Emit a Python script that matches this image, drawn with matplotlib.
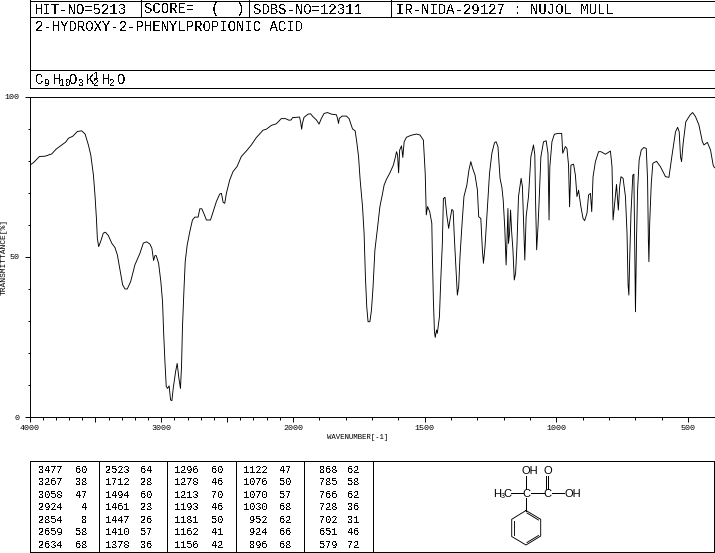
import numpy as np
import matplotlib
matplotlib.use('Agg')
import matplotlib.pyplot as plt

plt.rcParams['font.family'] = ['Liberation Mono', 'DejaVu Sans Mono']
plt.rcParams['text.antialiased'] = False

# spectrum: wavenumber (1/cm), transmittance (%)
wavenumber = [
    4000, 3970, 3924, 3881, 3831, 3798, 3755, 3725, 3704, 3672, 3636, 3604, 3578, 3553, 3535, 3515,
    3503, 3492, 3485, 3475, 3460, 3440, 3424, 3402, 3376, 3351, 3333, 3313, 3293, 3275, 3258, 3232,
    3200, 3162, 3136, 3111, 3086, 3071, 3058, 3048, 3038, 3020, 3003, 2990, 2982, 2972, 2962, 2952,
    2940, 2929, 2919, 2909, 2891, 2879, 2866, 2854, 2846, 2839, 2828, 2818, 2803, 2783, 2763, 2745,
    2720, 2707, 2692, 2674, 2657, 2626, 2606, 2581, 2556, 2543, 2530, 2518, 2505, 2480, 2455, 2424,
    2392, 2354, 2316, 2278, 2227, 2202, 2164, 2126, 2089, 2056, 2030, 2013, 2004,
    1975, 1971, 1967, 1964, 1958, 1943, 1933, 1924, 1911, 1901, 1892, 1882, 1869, 1854, 1835, 1831,
    1827, 1824, 1813, 1797, 1787, 1781, 1774, 1764, 1758, 1751, 1745, 1736, 1730, 1725, 1720, 1715,
    1708, 1702, 1696, 1689, 1680, 1670, 1661, 1654, 1645, 1632, 1619, 1611, 1607, 1603, 1599, 1595,
    1588, 1583, 1578, 1569, 1552, 1531, 1518, 1505, 1498, 1494, 1489, 1481, 1473, 1471, 1467, 1463,
    1460, 1455, 1452, 1444, 1439, 1433, 1429, 1423, 1416, 1409, 1404, 1397, 1392, 1387, 1381, 1376,
    1371, 1366, 1359, 1351, 1340, 1332, 1325, 1318, 1309, 1300, 1295, 1287, 1281, 1277, 1271, 1264,
    1254, 1245, 1235, 1229, 1222, 1214, 1207, 1202, 1196, 1191, 1188, 1184, 1182, 1178, 1174, 1170,
    1165, 1160, 1155, 1150, 1144, 1134, 1129, 1120, 1115, 1106, 1097, 1087, 1082, 1079, 1075, 1070,
    1066, 1059, 1049, 1039, 1032, 1028, 1025, 1017, 1008, 995, 980, 976, 966, 960, 954, 951,
    950, 945, 935, 928, 922, 916, 907, 899, 893, 884, 878, 871, 866, 861, 852, 840,
    831, 814, 795, 789, 785, 772, 765, 760, 755, 747, 738, 732, 728, 725, 722, 717,
    710, 706, 703, 700, 696, 692, 686, 678, 668, 659, 654, 651, 649, 646, 640, 634,
    620, 605, 586, 573, 561, 548, 540, 534, 529, 525, 519, 509, 493, 483, 472, 459,
    446, 440, 427, 415, 405, 400,
]
transmittance = [
    78.5, 79.4, 81.3, 81.4, 82.1, 83.6, 84.9, 85.8, 87.0, 87.6, 89.1, 89.3, 88.3, 84.9, 81.8, 75.6,
    69.3, 62.0, 55.8, 53.2, 54.8, 57.4, 57.7, 56.7, 54.3, 52.9, 50.6, 46.0, 41.3, 40.0, 40.0, 42.3,
    47.5, 51.1, 54.3, 54.7, 54.0, 52.7, 48.9, 50.4, 50.4, 48.0, 42.3, 36.0, 26.7, 17.4, 9.6, 9.0,
    9.8, 5.4, 5.2, 9.0, 14.2, 16.8, 12.2, 9.0, 15.8, 27.8, 39.2, 48.5, 53.7, 57.9, 61.5, 62.4,
    62.4, 65.0, 65.0, 63.3, 61.5, 61.5, 64.1, 67.3, 69.6, 69.8, 67.0, 66.7, 69.9, 74.0, 76.6, 78.2,
    81.3, 83.0, 84.9, 87.2, 89.5, 89.8, 91.0, 91.5, 93.1, 93.1, 92.6, 92.7, 93.4,
    93.6, 92.1, 89.8, 91.6, 93.5, 94.5, 94.6, 93.7, 92.7, 91.4, 93.2, 94.7, 95.0, 94.5, 94.3, 93.2,
    91.6, 93.2, 93.9, 93.9, 93.1, 91.6, 89.9, 89.3, 85.9, 81.2, 74.0, 65.7, 57.3, 43.8, 34.5, 29.8,
    29.8, 33.4, 40.7, 52.1, 58.4, 65.7, 69.3, 72.4, 74.2, 76.2, 78.6, 81.2, 82.8, 81.8, 76.2, 83.3,
    84.6, 81.0, 85.9, 87.3, 87.9, 88.3, 88.0, 86.4, 76.0, 63.1, 65.7, 64.1, 60.5, 51.1, 36.6, 26.7,
    24.9, 27.2, 26.2, 31.4, 42.8, 54.2, 68.2, 68.6, 63.0, 58.9, 61.5, 64.8, 64.4, 55.3, 45.9, 38.1,
    40.7, 50.1, 59.4, 68.8, 72.4, 77.1, 79.7, 77.6, 75.5, 70.9, 62.5, 62.0, 52.1, 48.0, 53.2, 62.5,
    76.0, 82.3, 85.6, 85.9, 84.4, 74.5, 71.7, 67.7, 58.9, 47.5, 54.2, 65.1, 54.2, 57.3, 64.6, 57.9,
    52.1, 42.8, 44.9, 53.2, 68.8, 74.5, 71.9, 49.0, 62.5, 68.8, 81.2, 84.9, 81.8, 66.7, 52.2, 59.4,
    66.7, 81.2, 85.9, 86.2, 82.3, 61.5, 78.1, 85.9, 88.2, 88.5, 88.5, 82.3, 84.4, 83.8, 78.6, 68.8,
    65.6, 78.6, 78.9, 75.5, 68.8, 70.8, 65.6, 62.0, 61.3, 63.6, 69.3, 69.8, 64.1, 75.0, 79.7, 82.8,
    82.8, 82.0, 83.0, 78.1, 61.5, 72.6, 64.6, 71.9, 75.0, 74.5, 68.8, 57.3, 41.2, 38.1, 49.0, 63.6,
    75.5, 75.8, 55.3, 32.9, 55.3, 70.8, 80.2, 83.3, 84.1, 83.8, 74.0, 55.3, 48.5, 60.5, 72.9, 79.2,
    79.8, 78.1, 75.0, 74.8, 81.8, 89.0, 90.4, 89.0, 81.2, 79.7, 85.4, 92.1, 94.2, 95.0, 93.7, 91.1,
    85.9, 84.9, 85.7, 83.3, 78.6, 77.8,
]

# peak table, one list per column
col1_wn = ['3477', '3267', '3058', '2924', '2854', '2659', '2634']
col1_t = ['60', '38', '47', '4', '8', '58', '68']
col2_wn = ['2523', '1712', '1494', '1461', '1447', '1410', '1378']
col2_t = ['64', '28', '60', '23', '26', '57', '36']
col3_wn = ['1296', '1278', '1213', '1193', '1181', '1162', '1156']
col3_t = ['60', '46', '70', '46', '50', '41', '42']
col4_wn = ['1122', '1076', '1070', '1030', '952', '924', '896']
col4_t = ['47', '50', '57', '68', '62', '66', '68']
col5_wn = ['868', '785', '766', '728', '702', '651', '579']
col5_t = ['62', '58', '62', '36', '31', '46', '72']

LW = 0.7
CURVE_LW = 0.65


# the x axis is twice as wide per wavenumber below 2000
def fwd(w):
    w = np.asarray(w, dtype=float)
    return np.where(w >= 2000, (w - 2000) * 0.5, w - 2000)


def inv(p):
    p = np.asarray(p, dtype=float)
    return np.where(p >= 0, p * 2 + 2000, p + 2000)


W, H = 715, 553
fig = plt.figure(figsize=(W / 100, H / 100), dpi=100)

ax = fig.add_axes([29.5 / W, 1 - 417.3 / H, 685 / W, 320.8 / H])
ax.set_xscale('function', functions=(fwd, inv))
ax.plot(wavenumber, transmittance, color='black', lw=CURVE_LW)
ax.set_xlim(4000, 400)
ax.set_ylim(0, 100)
ax.set_xticks([4000, 3500, 3000, 2500, 2000, 1500, 1000, 500],
              ['4000', '', '3000', '', '2000', '1500', '1000', '500'])
ax.set_xticks(np.arange(500, 4000, 100), minor=True)
ax.set_yticks([0, 50, 100], ['0', '50', '100'])
ax.set_yticks(np.arange(0, 100, 10), minor=True)
ax.tick_params(which='major', length=3.5, width=LW, labelsize=6)
ax.tick_params(which='minor', length=1.8, width=LW)
ax.tick_params(axis='x', which='major', pad=2)
ax.tick_params(axis='y', which='major', pad=3.5)
ax.set_xlabel('WAVENUMBER[-1]', fontsize=5.3, labelpad=0, antialiased=True)
ax.xaxis.set_label_coords(0.4796, -0.052)
ax.set_ylabel('TRANSMITTANCE[%]', fontsize=5.8, labelpad=0, antialiased=True)
ax.yaxis.set_label_coords(-0.0325, 0.5)
for t in ax.get_xticklabels() + ax.get_yticklabels():
    t.set_antialiased(True)
for s in ax.spines.values():
    s.set_linewidth(LW)

# overlay in pixel coordinates for the header, table and structure
ov = fig.add_axes([0, 0, 1, 1], facecolor='none')
ov.set_xlim(0, W)
ov.set_ylim(H, 0)
ov.axis('off')


def seg(x0, y0, x1, y1, lw=LW):
    ov.plot([x0, x1], [y0, y1], color='black', lw=lw, antialiased=False, solid_capstyle='butt')


# header boxes
for y in [0.5, 16.5, 69.5, 87.5]:
    seg(29.5, y, 714.5, y)
seg(29.5, 0, 29.5, 87.5)
seg(714.5, 0, 714.5, 87.5)
for x in [140.5, 248.5, 390.5]:
    seg(x, 0, x, 16.5)
head = {'fontsize': 10, 'va': 'center', 'ha': 'left'}
ov.text(35, 9.5, 'HIT-NO=5213', **head)
ov.text(144, 9.5, 'SCORE=  (  )', **head)
ov.text(253, 9.5, 'SDBS-NO=12311', **head)
ov.text(396, 9.5, 'IR-NIDA-29127 : NUJOL MULL', **head)
ov.text(35, 27, '2-HYDROXY-2-PHENYLPROPIONIC ACID', **head)

# formula, pieces overlap like in the original print
for x, s in [(35, 'C'), (53, 'H'), (69, 'O'), (86, 'K'), (102, 'H'), (117, 'O')]:
    ov.text(x, 84, s, fontsize=10, va='baseline', ha='left')
for x, s in [(44, '9'), (59, '10'), (78, '3'), (93, '2'), (109, '2')]:
    ov.text(x, 86.5, s, fontsize=7, va='baseline', ha='left')
ov.text(93, 79, '1', fontsize=7, va='baseline', ha='left')

# peak table
seg(29.5, 460.5, 714, 460.5)
seg(29.5, 552, 714, 552)
for x in [29.5, 98.5, 166.5, 235.5, 303.5, 372.5, 714]:
    seg(x, 460.5, x, 552)
table_cols = [(col1_wn, col1_t, 62.5, 87.5), (col2_wn, col2_t, 129.5, 152.5),
              (col3_wn, col3_t, 199, 224), (col4_wn, col4_t, 267.5, 291.5),
              (col5_wn, col5_t, 337.5, 360)]
for wns, ts, xa, xb in table_cols:
    for i in range(7):
        y = 470 + i * 12.45
        ov.text(xa, y, wns[i], fontsize=7.4, ha='right', va='center')
        ov.text(xb, y, ts[i], fontsize=7.4, ha='right', va='center')

# structure of the compound
struct = {'fontsize': 8, 'family': 'Liberation Sans', 'va': 'center', 'ha': 'center', 'antialiased': True}
ov.text(529.5, 471, 'OH', **struct)
ov.text(547.7, 471, 'O', **struct)
ov.text(526.5, 494, 'C', **struct)
ov.text(547.7, 494, 'C', **struct)
ov.text(572.5, 494, 'OH', **struct)
ov.text(497, 494, 'H', **struct)
ov.text(502.5, 497, '3', fontsize=5, family='Liberation Sans', va='center', ha='center', antialiased=True)
ov.text(507, 494, 'C', **struct)
seg(526, 476, 526, 489)
seg(546, 476, 546, 489)
seg(548, 476, 548, 489)
seg(510.5, 493, 522.5, 493)
seg(530.5, 493, 544, 493)
seg(551.5, 493, 564, 493)
seg(526, 498, 526, 510.5)
ring_x = [526, 540.7, 540.7, 526, 511.7, 511.7, 526]
ring_y = [510.5, 519.3, 536, 545, 536.5, 519.3, 510.5]
ov.plot(ring_x, ring_y, color='black', lw=CURVE_LW)
ov.plot([527, 538.5], [513, 520], color='black', lw=CURVE_LW)
ov.plot([527, 538.5], [542.5, 535.5], color='black', lw=CURVE_LW)
ov.plot([514, 514], [521, 535], color='black', lw=CURVE_LW)

fig.savefig('out.png', dpi=100)
